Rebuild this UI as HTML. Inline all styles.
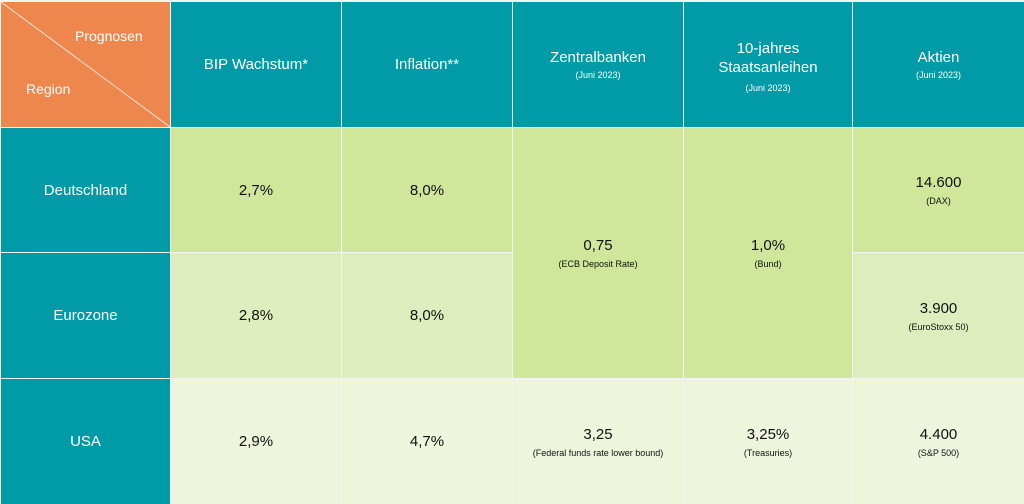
<!DOCTYPE html>
<html><head><meta charset="utf-8"><style>
body{margin:0;width:1024px;height:504px;background:#f2f6f0;overflow:hidden;font-family:"Liberation Sans",sans-serif}
.c{position:absolute;display:flex;flex-direction:column;align-items:center;justify-content:center;text-align:center;box-sizing:border-box}
.h{background:#009ba6;color:#fff;font-size:15px}
.g1{background:#d0e69a}.g2{background:#deedbd}.g3{background:#eef5dc}
.v{font-size:15px;color:#111}
small{font-size:9px;margin-top:5px;display:block}
.h small{margin-top:4px}
</style></head><body>
<div class="c" style="left:1px;top:2px;width:169px;height:125px;background:#ee874e">
<svg width="169" height="125" style="position:absolute;left:0;top:0"><line x1="0" y1="0" x2="169" y2="125" stroke="#fbe6d8" stroke-width="1"/></svg>
<span style="position:absolute;left:74px;top:26px;color:#fff;font-size:14px">Prognosen</span>
<span style="position:absolute;left:25px;top:79px;color:#fff;font-size:14px">Region</span>
</div>
<div class="c h" style="left:171px;top:2px;width:170px;height:125px">BIP Wachstum*</div>
<div class="c h" style="left:342px;top:2px;width:170px;height:125px">Inflation**</div>
<div class="c h" style="left:513px;top:2px;width:170px;height:125px;justify-content:flex-start;padding-top:47px">Zentralbanken<small>(Juni 2023)</small></div>
<div class="c h" style="left:684px;top:2px;width:168px;height:125px;justify-content:flex-start;padding-top:37px;line-height:19px">10-jahres<br>Staatsanleihen<small style="margin-top:2px">(Juni 2023)</small></div>
<div class="c h" style="left:853px;top:2px;width:171px;height:125px;justify-content:flex-start;padding-top:47px">Aktien<small>(Juni 2023)</small></div>

<div class="c h" style="left:1px;top:128px;width:169px;height:124px">Deutschland</div>
<div class="c h" style="left:1px;top:253px;width:169px;height:125px">Eurozone</div>
<div class="c h" style="left:1px;top:379px;width:169px;height:125px">USA</div>

<div class="c g1 v" style="left:171px;top:128px;width:170px;height:124px">2,7%</div>
<div class="c g1 v" style="left:342px;top:128px;width:170px;height:124px">8,0%</div>
<div class="c g2 v" style="left:171px;top:253px;width:170px;height:125px">2,8%</div>
<div class="c g2 v" style="left:342px;top:253px;width:170px;height:125px">8,0%</div>
<div class="c g1 v" style="left:513px;top:128px;width:170px;height:250px">0,75<small>(ECB Deposit Rate)</small></div>
<div class="c g1 v" style="left:684px;top:128px;width:168px;height:250px">1,0%<small>(Bund)</small></div>
<div class="c g1 v" style="left:853px;top:128px;width:171px;height:124px">14.600<small>(DAX)</small></div>
<div class="c g2 v" style="left:853px;top:253px;width:171px;height:125px">3.900<small>(EuroStoxx 50)</small></div>

<div class="c g3 v" style="left:171px;top:379px;width:170px;height:125px">2,9%</div>
<div class="c g3 v" style="left:342px;top:379px;width:170px;height:125px">4,7%</div>
<div class="c g3 v" style="left:513px;top:379px;width:170px;height:125px">3,25<small>(Federal funds rate lower bound)</small></div>
<div class="c g3 v" style="left:684px;top:379px;width:168px;height:125px">3,25%<small>(Treasuries)</small></div>
<div class="c g3 v" style="left:853px;top:379px;width:171px;height:125px">4.400<small>(S&amp;P 500)</small></div>
</body></html>
